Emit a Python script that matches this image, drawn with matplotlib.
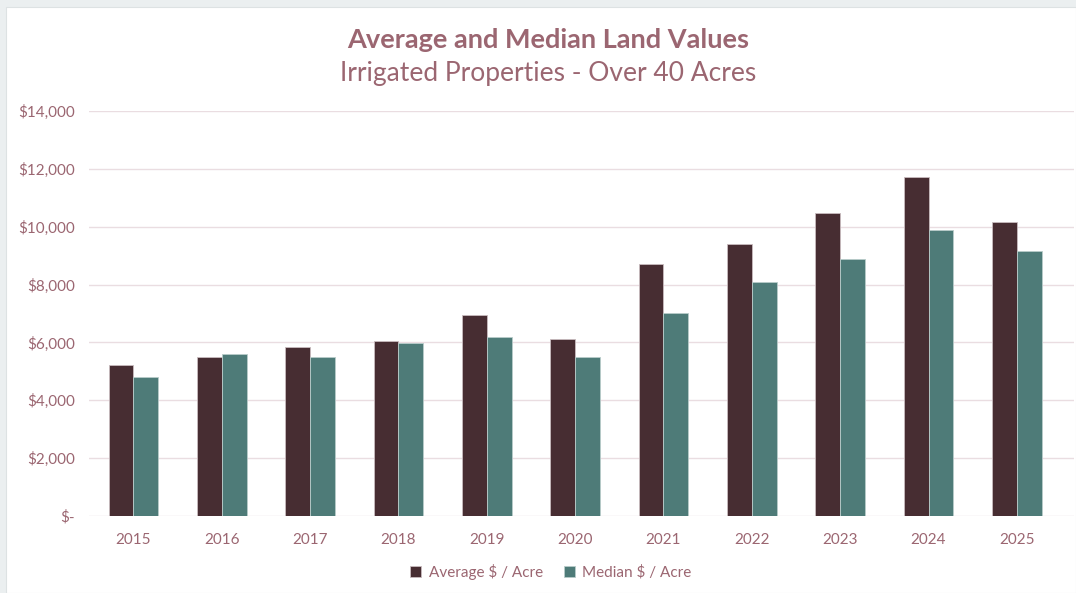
# Average and median land values, irrigated properties over 40 acres.

import numpy as np
import matplotlib.pyplot as plt
from matplotlib.patches import Rectangle
from matplotlib.ticker import FuncFormatter

years = ['2015', '2016', '2017', '2018', '2019', '2020',
         '2021', '2022', '2023', '2024', '2025']
average = [5210, 5490, 5830, 6040, 6950, 6130, 8720, 9410, 10490, 11710, 10150]
median = [4800, 5600, 5500, 5990, 6180, 5490, 7020, 8090, 8900, 9900, 9150]

y_ticks = [0, 2000, 4000, 6000, 8000, 10000, 12000, 14000]


def dollars(v, pos):
    if v == 0:
        return '$-'
    return f'${v:,.0f}'


def main():

    # Colours
    text_color = '#9B6671'
    grid_color = '#EADDE1'
    avg_color = '#472D32'
    med_color = '#4E7B78'

    plt.rcParams['font.family'] = ['Lato', 'DejaVu Sans']

    fig = plt.figure(figsize=(10.76, 5.93), dpi=100)
    fig.patch.set_facecolor('#EBEFF0')

    # White chart area
    fig.patches.append(Rectangle((6/1076, 0), 1 - 6/1076, 1 - 7/593,
                                 transform=fig.transFigure,
                                 facecolor='white', edgecolor='#DDE2E3',
                                 linewidth=0.8, zorder=-10))

    ax = fig.add_axes([89.3/1076, 1 - 516/593, (1074 - 89.3)/1076, (516 - 111)/593])
    ax.set_facecolor('none')

    x = np.arange(len(years))
    w = 0.28
    ax.bar(x - w/2, average, w, color=avg_color, edgecolor='#C9BCBF',
           linewidth=0.6, label='Average $ / Acre', zorder=3)
    ax.bar(x + w/2, median, w, color=med_color, edgecolor='#B9CCCA',
           linewidth=0.6, label='Median $ / Acre', zorder=3)

    ax.set_xlim(-0.5, 10.5 + 13/88.4)
    ax.set_ylim(0, 14000)
    ax.set_yticks(y_ticks)
    ax.yaxis.set_major_formatter(FuncFormatter(dollars))
    ax.set_xticks(x)
    ax.set_xticklabels(years)

    ax.grid(axis='y', color=grid_color, linewidth=1.0, zorder=0)
    ax.set_axisbelow(True)
    for s in ax.spines.values():
        s.set_visible(False)
    ax.tick_params(axis='both', length=0, colors=text_color, labelsize=11)
    ax.tick_params(axis='y', pad=10.5)
    ax.tick_params(axis='x', pad=12)

    # Titles
    fig.text(0.509, 1 - 40/593, 'Average and Median Land Values', ha='center',
             va='center', fontsize=19.5, fontweight='bold', color=text_color)
    fig.text(0.509, 1 - 74/593, 'Irrigated Properties - Over 40 Acres', ha='center',
             va='center', fontsize=19, color=text_color)

    # Legend
    leg = fig.legend(loc='center', bbox_to_anchor=(0.512, 1 - 572/593), ncol=2,
                     frameon=False, fontsize=11, handlelength=0.7,
                     handleheight=0.7, handletextpad=0.5, columnspacing=1.4)
    for t in leg.get_texts():
        t.set_color(text_color)

    fig.savefig('out.png', dpi=100, facecolor=fig.get_facecolor())


if __name__ == '__main__':
    main()
